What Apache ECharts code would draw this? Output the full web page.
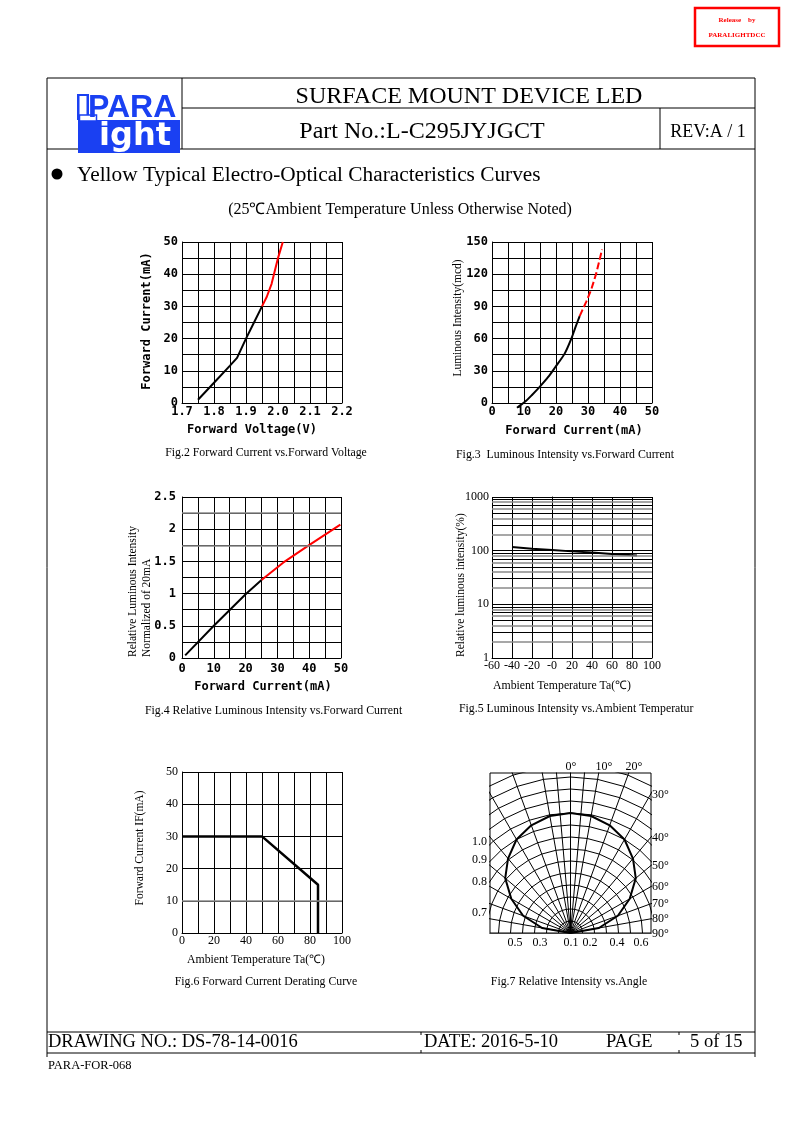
<!DOCTYPE html>
<html><head><meta charset="utf-8">
<script src="https://cdn.jsdelivr.net/npm/echarts@6/dist/echarts.min.js"></script>
<style>html,body{margin:0;padding:0;background:#fff}#c{width:793px;height:1123px}</style>
</head><body><div id="c"></div>
<script>
// ---------------- DATA ----------------
// Fig.2 Forward Current vs Forward Voltage
const fig2BlackV = [1.75, 1.80, 1.85, 1.872, 1.90, 1.925, 1.95];
const fig2BlackI = [1, 6.3, 11.6, 14, 20, 25, 30];
const fig2RedV = [1.95, 1.965, 1.98, 2.0, 2.015];
const fig2RedI = [30, 33, 37, 45, 50];
// Fig.3 Luminous Intensity vs Forward Current
const fig3BlackI = [7.8, 10.2, 12.5, 14.9, 17.5, 19.8, 22.7, 24.8, 26.0, 27.4];
const fig3BlackL = [-4.4, 0.9, 7.5, 15, 24, 33.5, 46, 60, 70, 81];
const fig3RedI = [27.4, 29.5, 31.0, 32.6, 34.4];
const fig3RedL = [81, 94.7, 105.6, 121, 143];
// Fig.4 Relative Luminous Intensity vs Forward Current
const fig4BlackI = [1, 10, 20, 25];
const fig4BlackR = [0.04, 0.5, 0.99, 1.21];
const fig4RedI = [25, 31.8, 39.6, 49.8];
const fig4RedR = [1.21, 1.48, 1.74, 2.07];
const fig4GrayLines = [1.75, 2.25];
// Fig.5 Luminous Intensity vs Ambient Temperature
const fig5Temp = [-40, -20, 0, 20, 40, 60, 85];
const fig5Rel = [117, 109, 103, 97, 92, 87, 81];
const fig5XLabels = ['-60', '-40', '-20', '-0', '20', '40', '60', '80', '100'];
const fig5MinorLines = [2,3,4,5,6,7,8,9,20,30,40,50,60,70,80,90,200,300,400,500,600,700,800,900];
// Fig.6 Forward Current Derating Curve
const fig6Temp = [0, 50, 85, 85];
const fig6If = [30, 30, 15, 0];
const fig6GrayLines = [10];
// Fig.7 Relative Intensity vs Angle
const fig7Angle = [-90,-80,-70,-60,-50,-40,-30,-20,-10,0,10,20,30,40,50,60,70,80,90];
const fig7Intensity = [0,0.24,0.42,0.57,0.71,0.81,0.90,0.955,0.99,1.0,0.99,0.955,0.90,0.81,0.71,0.57,0.42,0.24,0];
const fig7GridAngles = [-90,-80,-70,-60,-50,-40,-30,-20,-10,-5,0,5,10,20,30,40,50,60,70,80,90];
const fig7GridRadii = [0.1,0.2,0.3,0.4,0.5,0.6,0.7,0.8,0.9,1.0,1.1,1.2,1.3,1.4];
const fig7TopLabels = ['0°','10°','20°'];
const fig7RightLabels = ['30°','40°','50°','60°','70°','80°','90°'];
const fig7LeftLabels = ['1.0','0.9','0.8','0.7'];
const fig7BottomLabels = ['0.5','0.3','0.1','0.2','0.4','0.6'];

// ---------------- HELPERS ----------------
const SERIF = "'Liberation Serif','Times New Roman',serif";
const MONO = "'DejaVu Sans Mono',monospace";
const BLK = '#000';
const GRAY = '#8a8a8a';
const zip = (a, b) => a.map((v, i) => [v, b[i]]);
const rad = d => d * Math.PI / 180;
const polar = (deg, r) => [r * Math.sin(rad(deg)), r * Math.cos(rad(deg))];

function axis(gridIndex, o) {
  return Object.assign({
    type: 'value', gridIndex,
    axisLine: { show: true, onZero: false, lineStyle: { color: BLK, width: 1 } },
    axisTick: { show: false },
    splitLine: { show: true, lineStyle: { color: BLK, width: 1 } },
    minorTick: { show: false, splitNumber: 2 },
    minorSplitLine: { show: true, lineStyle: { color: BLK, width: 1 } },
    axisLabel: { color: BLK, fontFamily: MONO, fontSize: 12, fontWeight: 'bold', margin: 4 }
  }, o);
}
function txt(x, y, text, font, o) {
  o = o || {};
  const align = o.align || 'center';
  const va = o.va || 'middle';
  return {
    type: 'text', x: x, y: y, rotation: o.rot || 0, silent: true,
    style: { text: text, x: 0, y: 0, font: font, fill: o.fill || BLK,
      textAlign: align, align: align, textVerticalAlign: va, verticalAlign: va }
  };
}
function ln(x1, y1, x2, y2, w, c) {
  return { type: 'line', silent: true, shape: { x1, y1, x2, y2 },
    style: { stroke: c || BLK, lineWidth: w || 1 } };
}
function line(xi, data, color, width, extra) {
  return Object.assign({
    type: 'line', xAxisIndex: xi, yAxisIndex: xi, data: data,
    symbol: 'none', showSymbol: false, silent: true,
    lineStyle: { color: color, width: width }
  }, extra || {});
}
function hLines(values, colorFn, widthFn) {
  return { silent: true, symbol: ['none', 'none'], animation: false, label: { show: false },
    lineStyle: { type: 'solid', color: BLK, width: 1 },
    data: values.map((v, i) => ({ yAxis: v, lineStyle: { type: 'solid', color: colorFn(i), width: widthFn(i) } })) };
}

// Fig.7 grid geometry (built from angle / radius lists)
const fig7Radials = fig7GridAngles.map(a => ({ coords: [[0, 0], polar(a, 1.6)] }));
const fig7Arcs = fig7GridRadii.map(r => {
  const pts = [];
  for (let a = -90; a <= 90; a += 10) pts.push(polar(a, r));
  return { coords: pts };
});
const fig7Pattern = fig7Angle.map((a, i) => polar(a, fig7Intensity[i]));

// ---------------- CHART ----------------
const chart = echarts.init(document.getElementById('c'), null, { renderer: 'canvas' });

const grids = [
  { left: 182, top: 242, width: 160, height: 161 },
  { left: 492, top: 242, width: 160, height: 161 },
  { left: 182, top: 497, width: 159, height: 161 },
  { left: 492, top: 497, width: 160, height: 161 },
  { left: 182, top: 772, width: 160, height: 161 },
  { left: 490, top: 773, width: 161, height: 160, show: true, borderColor: BLK, borderWidth: 1, backgroundColor: 'transparent' }
].map(g => Object.assign({ outerBoundsMode: 'none', containLabel: false }, g));

const serifLabel = { color: BLK, fontFamily: SERIF, fontSize: 12, fontWeight: 'normal', margin: 4 };

const xAxes = [
  axis(0, { min: 1.7, max: 2.2, interval: 0.1, axisLabel: { color: BLK, fontFamily: MONO, fontSize: 12, fontWeight: 'bold', margin: 3, formatter: v => v.toFixed(1) } }),
  axis(1, { min: 0, max: 50, interval: 10, axisLabel: { color: BLK, fontFamily: MONO, fontSize: 12, fontWeight: 'bold', margin: 3 } }),
  axis(2, { min: 0, max: 50, interval: 10, axisLabel: { color: BLK, fontFamily: MONO, fontSize: 12, fontWeight: 'bold', margin: 5 } }),
  axis(3, { min: -60, max: 100, interval: 20, minorSplitLine: { show: false },
    axisLabel: Object.assign({}, serifLabel, { margin: 2, formatter: (v, i) => fig5XLabels[i] }) }),
  axis(4, { min: 0, max: 100, interval: 20, axisLabel: Object.assign({}, serifLabel, { margin: 2 }) }),
  axis(5, { min: -80.5 / 120, max: 80.5 / 120, show: false, splitLine: { show: false }, minorSplitLine: { show: false } })
];
const yAxes = [
  axis(0, { min: 0, max: 50, interval: 10 }),
  axis(1, { min: 0, max: 150, interval: 30 }),
  axis(2, { min: 0, max: 2.5, interval: 0.5, axisLabel: { color: BLK, fontFamily: MONO, fontSize: 12, fontWeight: 'bold', margin: 6 } }),
  { type: 'log', gridIndex: 3, min: 1, max: 1000, logBase: 10,
    axisLine: { show: true, lineStyle: { color: BLK, width: 1 } }, axisTick: { show: false },
    splitLine: { show: true, lineStyle: { color: BLK, width: 1 } },
    minorSplitLine: { show: false },
    axisLabel: Object.assign({}, serifLabel, { margin: 3, formatter: v => String(Math.round(v)) }) },
  axis(4, { min: 0, max: 50, interval: 10, minorSplitLine: { show: false }, axisLabel: Object.assign({}, serifLabel, { margin: 4 }) }),
  axis(5, { min: 0, max: 160 / 120, show: false, splitLine: { show: false }, minorSplitLine: { show: false } })
];

const series = [
  line(0, zip(fig2BlackV, fig2BlackI), BLK, 2),
  line(0, zip(fig2RedV, fig2RedI), '#ff0000', 2),
  line(1, zip(fig3BlackI, fig3BlackL), BLK, 2, { clip: false, smooth: 0.3 }),
  line(1, zip(fig3RedI, fig3RedL), '#ff0000', 2, { lineStyle: { color: '#ff0000', width: 2, type: [7, 3] } }),
  line(2, zip(fig4BlackI, fig4BlackR), BLK, 2, { markLine: hLines(fig4GrayLines, () => GRAY, () => 1.5), z: 3 }),
  line(2, zip(fig4RedI, fig4RedR), '#ff0000', 2),
  line(3, zip(fig5Temp, fig5Rel), BLK, 2, {
    markLine: hLines(fig5MinorLines, i => (i % 2 ? BLK : GRAY), i => (i % 2 ? 1 : 1.6))
  }),
  line(4, zip(fig6Temp, fig6If), BLK, 2.5, { markLine: hLines(fig6GrayLines, () => GRAY, () => 1.5) }),
  { type: 'lines', coordinateSystem: 'cartesian2d', xAxisIndex: 5, yAxisIndex: 5, polyline: false, silent: true, clip: true,
    data: fig7Radials, lineStyle: { color: BLK, width: 1, opacity: 1, curveness: 0 } },
  { type: 'lines', coordinateSystem: 'cartesian2d', xAxisIndex: 5, yAxisIndex: 5, polyline: true, silent: true, clip: true,
    data: fig7Arcs, lineStyle: { color: BLK, width: 1, opacity: 1 } },
  line(5, fig7Pattern, BLK, 2)
];

const g = [];
// page frame
g.push(ln(47, 78, 755, 78), ln(47, 78, 47, 1057), ln(755, 78, 755, 1057));
g.push(ln(182, 78, 182, 149), ln(182, 108, 755, 108), ln(660, 108, 660, 149), ln(47, 149, 755, 149));
g.push(ln(47, 1032, 755, 1032), ln(47, 1053, 755, 1053));
g.push(ln(421, 1032, 421, 1035), ln(679, 1032, 679, 1035), ln(421, 1050, 421, 1053), ln(679, 1050, 679, 1053));
// release stamp
g.push({ type: 'rect', silent: true, shape: { x: 695, y: 8, width: 84, height: 38 }, style: { fill: 'none', stroke: '#ff0000', lineWidth: 2.5 } });
g.push(txt(737, 20, 'Release    by', "bold 7px " + SERIF, { fill: '#ff0000' }));
g.push(txt(737, 35, 'PARALIGHTDCC', "bold 7px " + SERIF, { fill: '#ff0000' }));
// logo
const BLUE = '#1a40f2';
g.push({ type: 'rect', silent: true, shape: { x: 77, y: 94, width: 12, height: 26 }, style: { fill: BLUE } });
g.push({ type: 'rect', silent: true, shape: { x: 79.5, y: 96, width: 7, height: 21 }, style: { fill: '#fff' } });
g.push({ type: 'rect', silent: true, shape: { x: 78, y: 120, width: 102, height: 33 }, style: { fill: BLUE } });
g.push({ type: 'rect', silent: true, shape: { x: 79.5, y: 115, width: 17, height: 6 }, style: { fill: '#fff', stroke: BLUE, lineWidth: 1.5 } });
g.push(txt(88, 108, 'PARA', "bold 32px 'Liberation Sans',Arial,sans-serif", { align: 'left', fill: BLUE }));
g.push(txt(99, 137, 'ight', "bold 32px 'DejaVu Sans',sans-serif", { align: 'left', fill: '#fff' }));
// header texts
g.push(txt(469, 97, 'SURFACE MOUNT DEVICE LED', '24px ' + SERIF));
g.push(txt(422, 132, 'Part No.:L-C295JYJGCT', '24px ' + SERIF));
g.push(txt(708, 132, 'REV:A / 1', '18px ' + SERIF));
g.push({ type: 'circle', silent: true, shape: { cx: 57, cy: 174, r: 5.5 }, style: { fill: BLK } });
g.push(txt(77, 175, 'Yellow Typical Electro-Optical Characteristics Curves', '21.3px ' + SERIF, { align: 'left' }));
g.push(txt(400, 210, '(25℃Ambient Temperature Unless Otherwise Noted)', '16px ' + SERIF));
// footer
g.push(txt(48, 1042, 'DRAWING NO.: DS-78-14-0016', '18.5px ' + SERIF, { align: 'left' }));
g.push(txt(424, 1042, 'DATE: 2016-5-10', '18.5px ' + SERIF, { align: 'left' }));
g.push(txt(606, 1042, 'PAGE', '18.5px ' + SERIF, { align: 'left' }));
g.push(txt(690, 1042, '5 of 15', '18.5px ' + SERIF, { align: 'left' }));
g.push(txt(48, 1066, 'PARA-FOR-068', '12.5px ' + SERIF, { align: 'left' }));
// Fig.2
const MB = 'bold 12px ' + MONO;
g.push(txt(147, 321, 'Forward Current(mA)', MB, { rot: Math.PI / 2 }));
g.push(txt(252, 430, 'Forward Voltage(V)', MB));
g.push(txt(266, 453, 'Fig.2 Forward Current vs.Forward Voltage', '11.8px ' + SERIF));
// Fig.3
g.push(txt(458, 318, 'Luminous Intensity(mcd)', '11.5px ' + SERIF, { rot: Math.PI / 2 }));
g.push(txt(574, 431, 'Forward Current(mA)', MB));
g.push(txt(565, 455, 'Fig.3  Luminous Intensity vs.Forward Current', '11.8px ' + SERIF));
// Fig.4
g.push(txt(133, 657, 'Relative Luminous Intensity', '11.5px ' + SERIF, { rot: Math.PI / 2, align: 'left' }));
g.push(txt(147, 657, 'Normalized of 20mA', '11.5px ' + SERIF, { rot: Math.PI / 2, align: 'left' }));
g.push(txt(263, 687, 'Forward Current(mA)', MB));
g.push(txt(145, 711, 'Fig.4 Relative Luminous Intensity vs.Forward Current', '11.8px ' + SERIF, { align: 'left' }));
// Fig.5
g.push(txt(461, 657, 'Relative luminous intensity(%)', '11.5px ' + SERIF, { rot: Math.PI / 2, align: 'left' }));
g.push(txt(562, 686, 'Ambient Temperature Ta(℃)', '11.8px ' + SERIF));
g.push(txt(459, 709, 'Fig.5 Luminous Intensity vs.Ambient Temperatur', '11.8px ' + SERIF, { align: 'left' }));
// Fig.6
g.push(txt(140, 848, 'Forward Current IF(mA)', '11.5px ' + SERIF, { rot: Math.PI / 2 }));
g.push(txt(256, 960, 'Ambient Temperature Ta(℃)', '11.8px ' + SERIF));
g.push(txt(266, 982, 'Fig.6 Forward Current Derating Curve', '11.8px ' + SERIF));
// Fig.7 labels
const f7 = '12px ' + SERIF;
[571, 604, 634].forEach((x, i) => g.push(txt(x, 767, fig7TopLabels[i], f7)));
[795, 838, 866, 887, 904, 919, 934].forEach((y, i) => g.push(txt(652, y, fig7RightLabels[i], f7, { align: 'left' })));
[842, 860, 882, 913].forEach((y, i) => g.push(txt(487, y, fig7LeftLabels[i], f7, { align: 'right' })));
[515, 540, 571, 590, 617, 641].forEach((x, i) => g.push(txt(x, 943, fig7BottomLabels[i], f7)));
g.push(txt(569, 982, 'Fig.7 Relative Intensity vs.Angle', '11.8px ' + SERIF));

chart.setOption({
  animation: false,
  backgroundColor: '#fff',
  grid: grids,
  xAxis: xAxes,
  yAxis: yAxes,
  series: series,
  graphic: { elements: g }
});
</script></body></html>
